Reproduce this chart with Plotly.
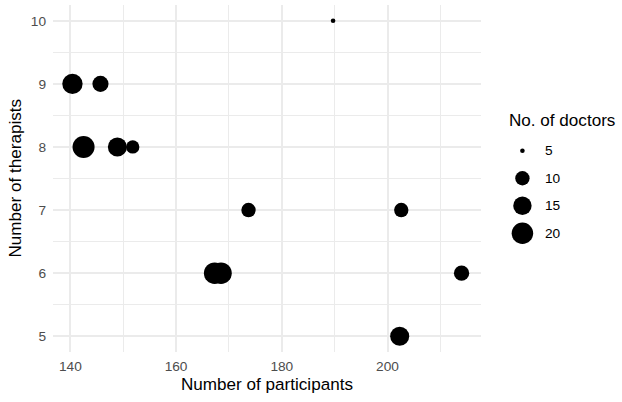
import numpy as np
import plotly.graph_objects as go

participants = [189.7, 140.4, 145.7, 142.5, 148.9, 151.8, 173.7, 202.6, 167.3, 168.5, 214.0, 202.3]
therapists = [10, 9, 9, 8, 8, 8, 7, 7, 6, 6, 6, 5]
doctors = [5, 18, 12, 21, 16, 9, 10, 10, 20, 20, 11, 16]

legend_values = [5, 10, 15, 20]
legend_labels = ["5", "10", "15", "20"]

FONT = "Liberation Sans, Arial, sans-serif"
TITLE_SIZE = 17.1
TICK_SIZE = 13.7
W, H = 622, 402
ML, MR, MT, MB = 53, 0, 5, 50
PANEL_RIGHT = 481


def size_px(d, lo=5, hi=20, smin=4.6, smax=21.5):
    d = np.asarray(d, dtype=float)
    t = np.clip((d - lo) / (hi - lo), 0, None)
    return smin + (smax - smin) * np.sqrt(t)


xmin, xmax = min(participants), max(participants)
xpad = 0.05 * (xmax - xmin)
ymin, ymax = min(therapists), max(therapists)
ypad = 0.05 * (ymax - ymin)

fig = go.Figure()
fig.add_trace(go.Scatter(
    x=participants, y=therapists, mode="markers",
    marker=dict(size=size_px(doctors), color="black", opacity=1, line=dict(width=0), sizemode="diameter"),
    showlegend=False, hoverinfo="skip",
))

# manual legend keys
fig.add_trace(go.Scatter(
    x=[0.5] * len(legend_values), y=list(range(len(legend_values))),
    xaxis="x2", yaxis="y2", mode="markers",
    marker=dict(size=size_px(legend_values), color="black", opacity=1, line=dict(width=0)),
    showlegend=False, hoverinfo="skip",
))

pw = W - ML - MR
ph = H - MT - MB


def px_x(p):
    return (p - ML) / pw


def px_y(p):
    return (H - MB - p) / ph


annotations = []
for i, lab in enumerate(legend_labels):
    annotations.append(dict(
        text=lab, x=px_x(543), xref="paper", y=i, yref="y2",
        xanchor="left", yanchor="middle", showarrow=False,
        font=dict(family=FONT, size=TICK_SIZE, color="black"),
    ))
annotations.append(dict(
    text="No. of doctors", x=px_x(507), xref="paper", y=px_y(120.7), yref="paper",
    xanchor="left", yanchor="middle", showarrow=False,
    font=dict(family=FONT, size=TITLE_SIZE, color="black"),
))
annotations.append(dict(
    text="Number of participants", x=px_x((ML + PANEL_RIGHT) / 2), xref="paper",
    y=px_y(384), yref="paper", xanchor="center", yanchor="middle", showarrow=False,
    font=dict(family=FONT, size=TITLE_SIZE, color="black"),
))
annotations.append(dict(
    text="Number of therapists", x=px_x(15), xref="paper",
    y=px_y((MT + H - MB) / 2), yref="paper", xanchor="center", yanchor="middle",
    showarrow=False, textangle=-90,
    font=dict(family=FONT, size=TITLE_SIZE, color="black"),
))

grid_major = "#EBEBEB"
fig.update_layout(
    width=W, height=H,
    margin=dict(l=ML, r=MR, t=MT, b=MB, pad=0, autoexpand=False),
    paper_bgcolor="white", plot_bgcolor="white",
    font=dict(family=FONT, color="#4D4D4D", size=TICK_SIZE),
    showlegend=False,
    xaxis=dict(
        domain=[0, px_x(PANEL_RIGHT)],
        range=[xmin - xpad, xmax + xpad],
        tick0=140, dtick=20, ticks="", showline=False, zeroline=False,
        showgrid=True, gridcolor=grid_major, gridwidth=1.6, automargin=False,
        ticklabelstandoff=4,
        minor=dict(dtick=10, tick0=130, showgrid=True, gridcolor=grid_major, gridwidth=0.9),
        tickfont=dict(family=FONT, size=TICK_SIZE, color="#4D4D4D"),
    ),
    yaxis=dict(
        range=[ymin - ypad, ymax + ypad],
        tick0=5, dtick=1, ticks="", showline=False, zeroline=False,
        showgrid=True, gridcolor=grid_major, gridwidth=1.6, automargin=False,
        ticklabelstandoff=6,
        minor=dict(dtick=0.5, tick0=4.5, showgrid=True, gridcolor=grid_major, gridwidth=0.9),
        tickfont=dict(family=FONT, size=TICK_SIZE, color="#4D4D4D"),
    ),
    xaxis2=dict(domain=[0.80, 0.85], range=[0, 1], visible=False, fixedrange=True),
    yaxis2=dict(domain=[px_y(247), px_y(137)], range=[3.5, -0.5], visible=False, fixedrange=True, anchor="x2"),
    annotations=annotations,
)

fig.write_html(
    "out.html",
    config={"displayModeBar": False},
    post_script="document.body.style.margin='0';document.body.style.padding='0';",
)
